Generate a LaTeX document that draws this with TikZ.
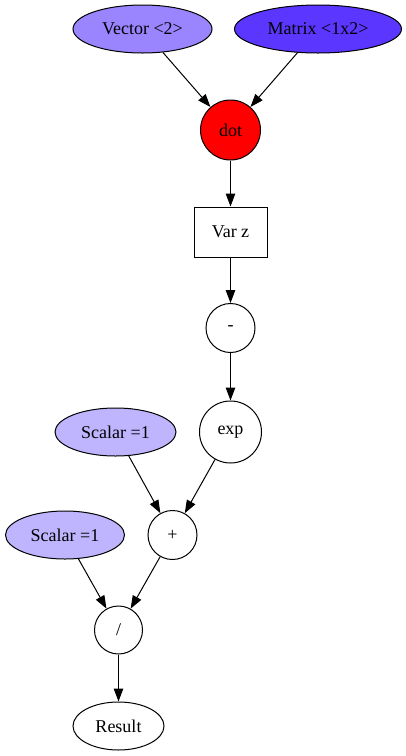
\documentclass[tikz,border=0pt]{standalone}
\usepackage{fontspec}
\setmainfont{Liberation Serif}
\usepackage{xcolor}
\usetikzlibrary{shapes.geometric,arrows.meta,positioning}

\definecolor{vecfill}{HTML}{9A85FF}
\definecolor{matfill}{HTML}{5B36FF}
\definecolor{scalfill}{HTML}{BFB5FF}

\begin{document}
\begin{tikzpicture}[
    x=1pt, y=-1pt,
    on grid,
    every node/.style={font=\fontsize{18}{20}\selectfont, line width=1pt, inner sep=0pt},
    leaf/.style={ellipse, draw, minimum height=48pt},
    op/.style={circle, draw},
    var/.style={rectangle, draw, minimum width=73pt, minimum height=50pt},
    arrow/.style={-{Triangle[length=13pt,width=9.5pt]}, line width=1pt}
]
\useasboundingbox (0,0) rectangle (406,756);

% Inputs
\node[leaf, fill=vecfill, minimum width=139pt] (vec) at (142.5,29) {Vector <2>};
\node[leaf, fill=matfill, minimum width=167pt, right=175.5pt of vec] (mat) {Matrix <1x2>};

% Product and variable
\node[op, fill=red, minimum size=60pt, below right=101pt and 88pt of vec] (dot) {dot};
\node[var, below=102pt of dot] (varz) {Var z};

% Sigmoid
\node[op, minimum size=49pt, below=96pt of varz] (neg) {-};
\node[op, minimum size=62pt, below=104pt of neg] (exp) {exp};
\node[leaf, fill=scalfill, minimum width=121pt, left=115pt of exp] (one1) {Scalar =1};
\node[op, minimum size=49pt, below left=103pt and 58pt of exp] (plus) {+};
\node[leaf, fill=scalfill, minimum width=119pt, left=107.5pt of plus] (one2) {Scalar =1};
\node[op, minimum size=48pt, below left=95pt and 54pt of plus] (div) {/};
\node[leaf, minimum width=91pt, below=96pt of div] (res) {Result};

% Arrows
\draw[arrow] (vec) -- (dot);
\draw[arrow] (mat) -- (dot);
\draw[arrow] (dot) -- (varz);
\draw[arrow] (varz) -- (neg);
\draw[arrow] (neg) -- (exp);
\draw[arrow] (one1) -- (plus);
\draw[arrow] (exp) -- (plus);
\draw[arrow] (one2) -- (div);
\draw[arrow] (plus) -- (div);
\draw[arrow] (div) -- (res);

\end{tikzpicture}
\end{document}
